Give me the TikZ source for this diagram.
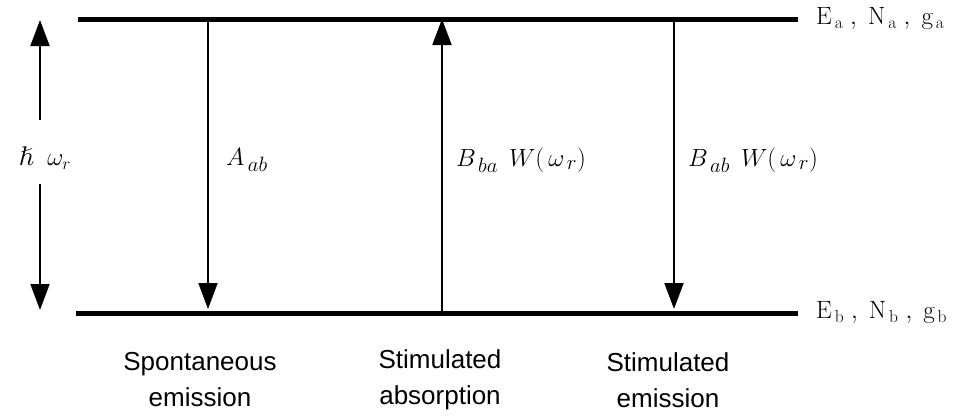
\documentclass[tikz,border=0pt]{standalone}
\usepackage{amsmath, amssymb}
\usepackage{fontspec}
\setsansfont{Liberation Sans}
\usepackage{tikz}
\usetikzlibrary{arrows.meta, positioning}

\begin{document}
\begin{tikzpicture}[x=1pt, y=-1pt,
  level/.style={line width=5pt},
  trans/.style={line width=2pt, -{Triangle[length=26pt, width=19pt]}},
  lab/.style={anchor=west, inner sep=0pt, font=\fontsize{31}{36}\selectfont},
  state/.style={anchor=west, inner sep=0pt, font=\fontsize{25}{28}\selectfont},
  caption/.style={align=center, inner sep=0pt, font=\sffamily\fontsize{26}{36}\selectfont},
]
  \useasboundingbox (0,0) rectangle (964,416);

  % energy levels
  \coordinate (atop) at (78,19);
  \coordinate (aend) at (798,19);
  \coordinate (btop) at (76,313);
  \coordinate (bend) at (798,313);
  \draw[level] (atop) -- (aend);
  \draw[level] (btop) -- (bend);
  \node[state, right=18pt of aend] (sa) {$\mathrm{E}_{\,\mathrm{a}}\;,\;\mathrm{N}_{\,\mathrm{a}}\;,\;\mathrm{g}_{\,\mathrm{a}}$};
  \node[state, right=18pt of bend] (sb) {$\mathrm{E}_{\,\mathrm{b}}\;,\;\mathrm{N}_{\,\mathrm{b}}\;,\;\mathrm{g}_{\,\mathrm{b}}$};

  % energy gap
  \node[inner sep=0pt, font=\fontsize{27}{30}\selectfont] (gap) at (45,158) {$\hslash\;\;\omega_r$};
  \coordinate (gtop) at (40,20);
  \coordinate (gbot) at (40,310);
  \draw[trans] (40,120) -- (gtop);
  \draw[trans] (40,184) -- (gbot);

  % transitions
  \coordinate (sp1) at (208,21);
  \coordinate (sp2) at (208,309);
  \coordinate (ab1) at (442,311);
  \coordinate (ab2) at (442,19);
  \coordinate (se1) at (674,21);
  \coordinate (se2) at (674,309);
  \draw[trans] (sp1) -- (sp2);
  \draw[trans] (ab1) -- (ab2);
  \draw[trans] (se1) -- (se2);

  \node[lab] (aab) at (226,160) {$A_{\,ab}$};
  \node[lab] (bba) at (456,160) {$B_{\,ba}\;\,W(\,\omega_{\,r})$};
  \node[lab] (bab) at (688,160) {$B_{\,ab}\;\,W(\,\omega_{\,r})$};

  \node[caption] (spont) at (200,380) {Spontaneous\\emission};
  \node[caption] (absorp) at (440,380) {Stimulated\\absorption};
  \node[caption] (stem) at (668,380) {Stimulated\\emission};
\end{tikzpicture}
\end{document}
